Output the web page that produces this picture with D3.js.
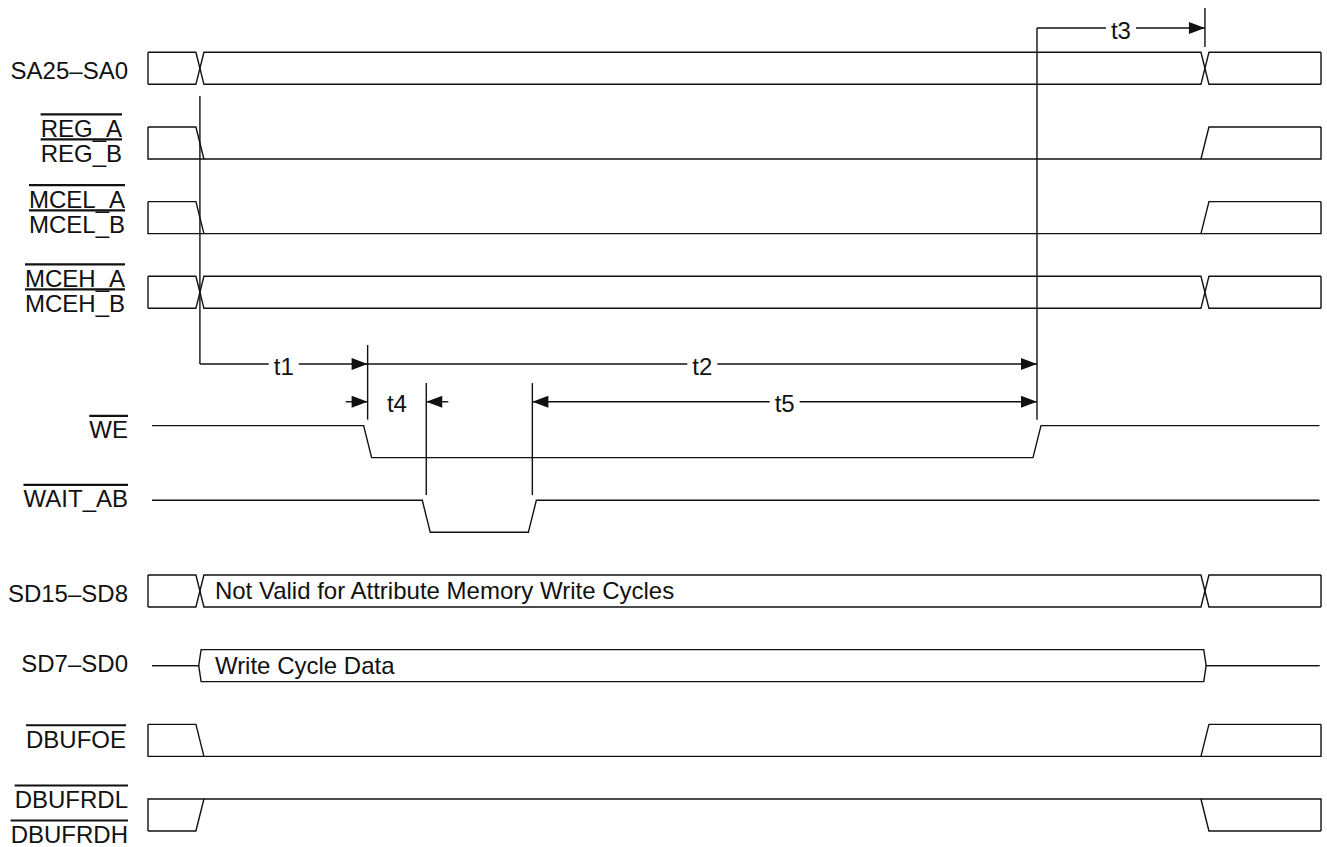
<!DOCTYPE html>
<meta charset="utf-8">
<style type="text/css">
  body { margin: 0; background: #fff; }
  svg { display: block; }
  text {
    font-family: "Liberation Sans", Arial, sans-serif;
    font-size: 24px;
    fill: #111;
  }
  .wave { fill: none; stroke: #111; stroke-width: 1.4px; stroke-linejoin: miter; }
  .guide { stroke: #111; stroke-width: 1.4px; }
  .over { stroke: #111; stroke-width: 2.2px; }
  .head { fill: #111; }
</style>
<body></body>
<script src="https://d3js.org/d3.v7.min.js"></script>
<script>
  // ---- data: edge times (ns) ----
  var tEnd = 470,
    tAddr = 20.8,       // address, REG, MCE valid
    tWeFall = 88,
    tWaitFall = 111.5,
    tWaitRise = 154,
    tWeRise = 356.2,
    tAddrEnd = 423.5;

  var signalNames = [
    ["SA25–SA0"], ["REG_A", "REG_B"], ["MCEL_A", "MCEL_B"], ["MCEH_A", "MCEH_B"],
    ["WE"], ["WAIT_AB"], ["SD15–SD8"], ["SD7–SD0"], ["DBUFOE"], ["DBUFRDL", "DBUFRDH"]
  ];
  var overlined = [false, true, true, true, true, true, false, false, true, true];
  var boxed = [true, true, true, true, false, false, true, false, true, true];

  // each wave: list of [state, start time]; h = high, l = low, x = bus valid, z = float
  var waves = [
    [["x", 0], ["x", tAddr], ["x", tAddrEnd]],
    [["h", 0], ["l", tAddr], ["h", tAddrEnd]],
    [["h", 0], ["l", tAddr], ["h", tAddrEnd]],
    [["x", 0], ["x", tAddr], ["x", tAddrEnd]],
    [["h", 0], ["l", tWeFall], ["h", tWeRise]],
    [["h", 0], ["l", tWaitFall], ["h", tWaitRise]],
    [["x", 0], ["x", tAddr], ["x", tAddrEnd]],
    [["z", 0], ["x", tAddr], ["z", tAddrEnd]],
    [["h", 0], ["l", tAddr], ["h", tAddrEnd]],
    [["l", 0], ["h", tAddr], ["l", tAddrEnd]]
  ];
  var busTexts = [
    { signal: 6, seg: 1, text: "Not Valid for Attribute Memory Write Cycles" },
    { signal: 7, seg: 1, text: "Write Cycle Data" }
  ];

  var measures = [
    { name: "t1", from: tAddr, to: tWeFall, ends: "end" },
    { name: "t2", from: tWeFall, to: tWeRise, ends: "end" },
    { name: "t3", from: tWeRise, to: tAddrEnd, ends: "end" },
    { name: "t4", from: tWeFall, to: tWaitFall, ends: "outside" },
    { name: "t5", from: tWaitRise, to: tWeRise, ends: "both" }
  ];

  // ---- layout ----
  var W = 1327, H = 847, rowH = 32, slew = 4, zslew = 1.2;
  var signalRows = [0, 1, 2, 3, 5, 6, 7, 8, 9, 10];
  var labelX = 128;
  var labelDx = [0, -6, -3, -3, 0, 0, 0, 0, -2, 0];
  var labelDy = [[26.7], [10, 35], [5.9, 31.3], [10.6, 35.6], [12.8], [7.1], [26.8], [22.1], [23.4], [9, 44]];
  var measureRows = [4.175, 4.175, -0.325, 4.68, 4.68];
  var guides = [
    [tAddr, 0.585, 4.175], [tWeFall, 3.92, 4.92], [tWaitFall, 4.43, 5.93],
    [tWaitRise, 4.43, 5.93], [tWeRise, -0.325, 4.92], [tAddrEnd, -0.593, -0.071]
  ];

  var x = d3.scaleLinear().domain([0, tEnd]).range([148, 1321]);
  var y = d3.scaleLinear().domain([0, 10]).range([52.3, 799]);
  var line = d3.line();

  var svg = d3.select("body").append("svg")
    .attr("width", W)
    .attr("height", H);

  svg.append("rect").attr("width", W).attr("height", H).attr("fill", "#fff");

  // ---- waves ----
  waves.forEach(function(wave, i) {
    var yT = y(signalRows[i]), yB = yT + rowH, yM = (yT + yB) / 2;
    var x0 = boxed[i] ? x(0) : x(0) + 4,
      x1 = boxed[i] ? x(tEnd) : x(tEnd) - 1.5;
    var g = svg.append("g");

    function val(role, s) {
      if (s === "x") return role === "u" ? yT : yB;
      if (s === "z") return yM;
      return s === "h" ? yT : yB;
    }

    var isBus = wave.some(function(d) { return d[0] === "x" || d[0] === "z"; });
    var roles = isBus ? ["u", "l"] : ["u"];

    roles.forEach(function(r0) {
      var r = r0, pts = [[x0, val(r, wave[0][0])]];
      for (var k = 1; k < wave.length; k++) {
        var a = wave[k - 1][0], b = wave[k][0], c = x(wave[k][1]);
        var w = (a === "z" || b === "z") ? zslew : slew;
        pts.push([c - w, val(r, a)]);
        if (a === "x" && b === "x") r = r === "u" ? "l" : "u";
        pts.push([c + w, val(r, b)]);
      }
      pts.push([x1, val(r, wave[wave.length - 1][0])]);
      g.append("path").attr("class", "wave").attr("d", line(pts));
    });

    if (boxed[i]) {
      if (isBus) {
        g.append("path").attr("class", "wave").attr("d", line([[x0, yT], [x0, yB]]));
        g.append("path").attr("class", "wave").attr("d", line([[x1, yT], [x1, yB]]));
      } else {
        var s0 = wave[0][0], sN = wave[wave.length - 1][0];
        var c1 = x(wave[1][1]), cN = x(wave[wave.length - 1][1]);
        var opp0 = s0 === "h" ? yB : yT, oppN = sN === "h" ? yB : yT;
        g.append("path").attr("class", "wave")
          .attr("d", line([[x0, val("u", s0)], [x0, opp0], [c1 + slew, opp0]]));
        g.append("path").attr("class", "wave")
          .attr("d", line([[x1, val("u", sN)], [x1, oppN], [cN - slew, oppN]]));
      }
    }
  });

  // bus texts
  busTexts.forEach(function(d) {
    var c = x(waves[d.signal][d.seg][1]);
    svg.append("text")
      .attr("x", c + 15)
      .attr("y", y(signalRows[d.signal]) + rowH / 2 + 8.5)
      .text(d.text);
  });

  // ---- labels ----
  signalNames.forEach(function(lines, i) {
    var yT = y(signalRows[i]);
    lines.forEach(function(s, j) {
      var t = svg.append("text")
        .attr("x", labelX + labelDx[i])
        .attr("y", yT + labelDy[i][j])
        .style("text-anchor", "end")
        .text(s);
      if (overlined[i]) {
        var len = t.node().getComputedTextLength();
        var by = yT + labelDy[i][j] - 22.5;
        svg.append("line").attr("class", "over")
          .attr("x1", labelX + labelDx[i] - len).attr("x2", labelX + labelDx[i])
          .attr("y1", by).attr("y2", by);
      }
    });
  });

  // ---- guide lines ----
  svg.selectAll(".guide").data(guides).enter().append("line")
    .attr("class", "guide")
    .attr("x1", function(d) { return x(d[0]); })
    .attr("x2", function(d) { return x(d[0]); })
    .attr("y1", function(d) { return y(d[1]); })
    .attr("y2", function(d) { return y(d[2]); });

  // ---- timing arrows ----
  var headL = 16, headW = 6, outLen = 22;

  function head(xt, yy, dir) {
    svg.append("path").attr("class", "head")
      .attr("d", line([[xt, yy], [xt - dir * headL, yy - headW], [xt - dir * headL, yy + headW]]) + "Z");
  }

  measures.forEach(function(m, i) {
    var yy = y(measureRows[i]), xa = x(m.from), xb = x(m.to);
    if (m.ends === "outside") {
      svg.append("path").attr("class", "wave").attr("d", line([[xa - outLen, yy], [xa, yy]]));
      head(xa, yy, 1);
      svg.append("path").attr("class", "wave").attr("d", line([[xb, yy], [xb + outLen, yy]]));
      head(xb, yy, -1);
    } else {
      svg.append("path").attr("class", "wave").attr("d", line([[xa, yy], [xb, yy]]));
      head(xb, yy, 1);
      if (m.ends === "both") head(xa, yy, -1);
    }
    var t = svg.append("text")
      .attr("x", (xa + xb) / 2)
      .attr("y", yy + 10.7)
      .style("text-anchor", "middle")
      .text(m.name);
    if (m.ends !== "outside") {
      var bb = t.node().getBBox();
      svg.insert("rect", function() { return t.node(); })
        .attr("x", bb.x - 5).attr("width", bb.width + 10)
        .attr("y", yy - 3).attr("height", 6)
        .attr("fill", "#fff");
    }
  });
</script>
